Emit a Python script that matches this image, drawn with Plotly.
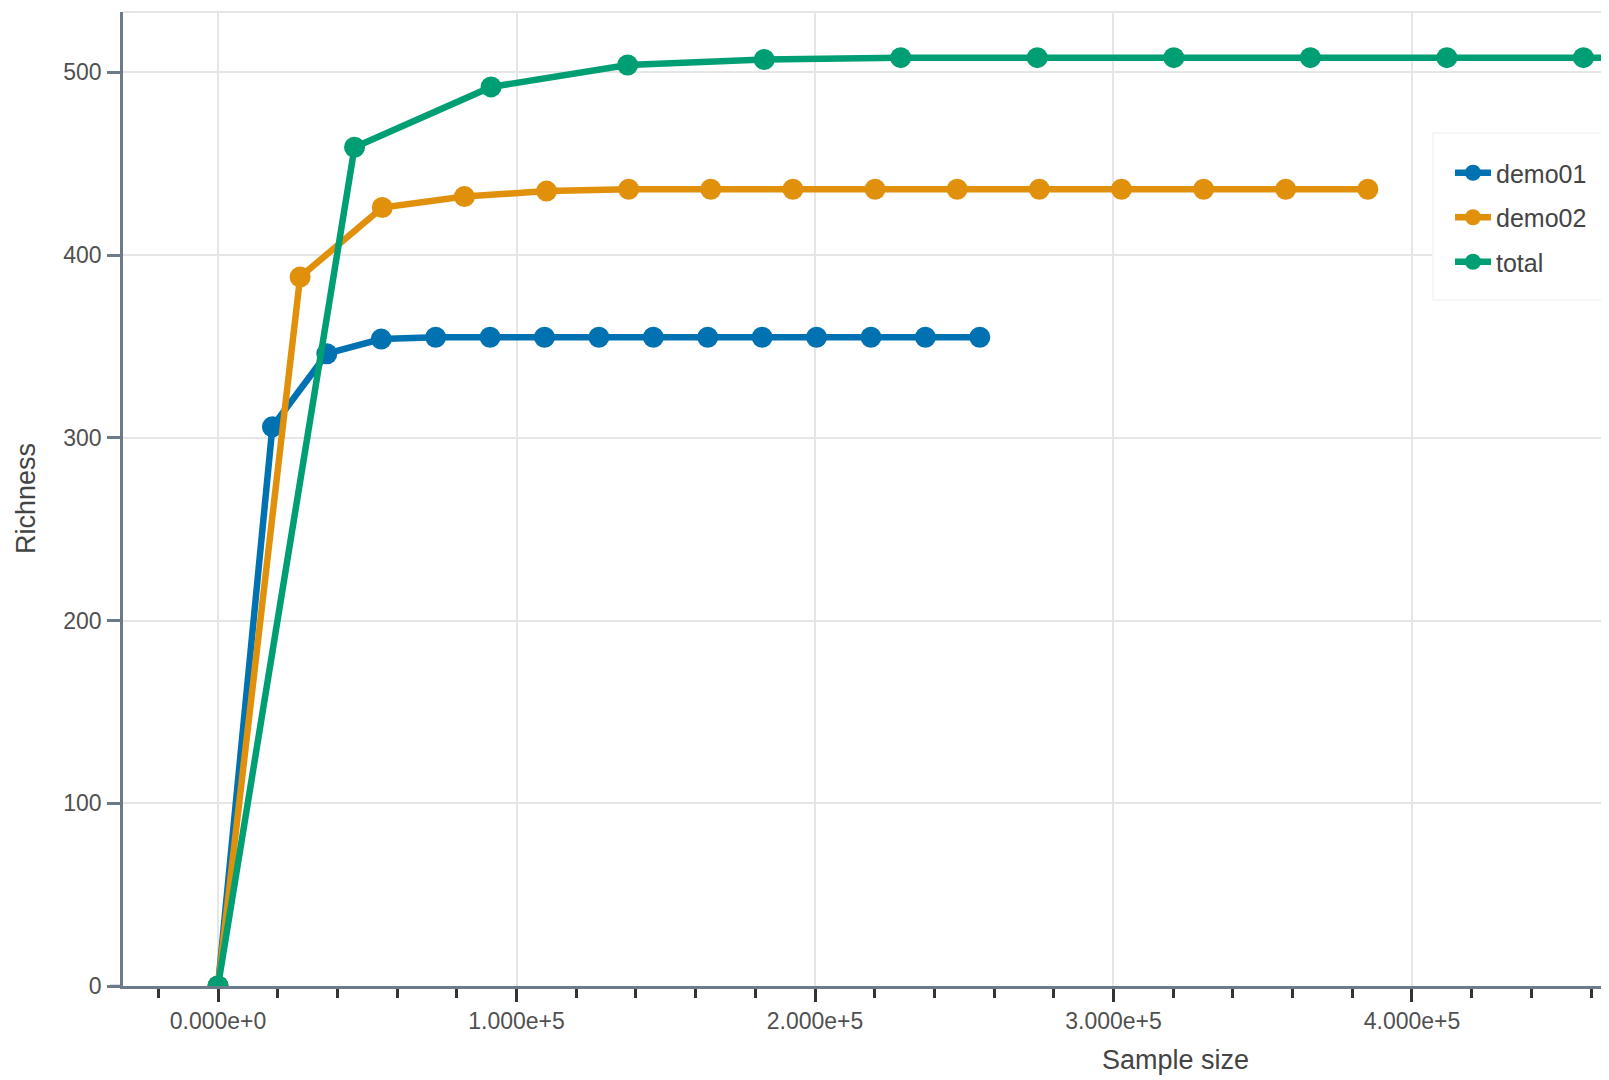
import plotly.graph_objects as go

# rarefaction curves
demo01_x = [0, 18229, 36458, 54687, 72916, 91145, 109374, 127603, 145832,
            164061, 182290, 200519, 218748, 236977, 255206]
demo01_y = [0, 306, 346, 354, 355, 355, 355, 355, 355, 355, 355, 355, 355, 355, 355]

demo02_x = [0, 27515, 55030, 82545, 110060, 137575, 165090, 192605, 220120,
            247635, 275150, 302665, 330180, 357695, 385210]
demo02_y = [0, 388, 426, 432, 435, 436, 436, 436, 436, 436, 436, 436, 436, 436, 436]

total_x = [0, 45744, 91488, 137232, 182976, 228720, 274464, 320208, 365952,
           411696, 457440, 503184, 548928, 594672, 640416]
total_y = [0, 459, 492, 504, 507, 508, 508, 508, 508, 508, 508, 508, 508, 508, 508]

series_names = ['demo01', 'demo02', 'total']
series_colors = ['#0072B2', '#E0900A', '#009E73']

FONT = 'Liberation Sans, Arial, sans-serif'
AXIS_COLOR = '#6b7b8a'
GRID_COLOR = '#e6e6e6'

# page body has an 8px margin, so the figure is a bit smaller than the window
W, H = 1601, 1072
L, T, B = 115, 4, 94
PW, PH = W - L, H - T - B


def draw_rarefaction(xs, ys):
    fig = go.Figure()
    for name, color, x, y in zip(series_names, series_colors, xs, ys):
        fig.add_trace(go.Scatter(
            x=x, y=y, name=name, legendgroup=name,
            mode='lines+markers',
            line=dict(color=color, width=6.5),
            marker=dict(color=color, size=21),
        ))

    fig.update_layout(
        width=W, height=H,
        margin=dict(l=L, r=0, t=T, b=B),
        paper_bgcolor='white', plot_bgcolor='white',
        font=dict(family=FONT, size=23, color='#505050'),
        showlegend=True,
        legend=dict(
            x=(1450 - 123) / PW, y=(986 - 150) / PH,
            xanchor='left', yanchor='top',
            bgcolor='rgba(0,0,0,0)', borderwidth=0,
            font=dict(size=25, color='#444444'),
            itemwidth=36,
            tracegroupgap=9,
        ),
        shapes=[
            # legend box
            dict(type='rect', xref='paper', yref='paper', layer='above',
                 x0=(1433 - 123) / PW, x1=1.0,
                 y0=(986 - 300) / PH, y1=(986 - 133) / PH,
                 fillcolor='white', line=dict(color='#f3f3f3', width=1.5)),
            # plot outline on top
            dict(type='line', xref='paper', yref='paper', layer='below',
                 x0=0, x1=1, y0=1, y1=1,
                 line=dict(color=GRID_COLOR, width=2)),
            # x axis line runs a little past the y axis
            dict(type='line', xref='paper', yref='paper', layer='above',
                 x0=-13 / PW, x1=0, y0=0, y1=0,
                 line=dict(color=AXIS_COLOR, width=2.5)),
        ],
        annotations=[
            dict(text='Sample size', xref='paper', yref='paper',
                 x=(1175 - 123) / PW, y=0, yshift=-74,
                 xanchor='center', yanchor='middle', showarrow=False,
                 font=dict(size=27, color='#444444')),
            dict(text='Richness', xref='paper', yref='paper',
                 x=0, xshift=-97, y=0.5, textangle=-90,
                 xanchor='center', yanchor='middle', showarrow=False,
                 font=dict(size=27, color='#444444')),
        ],
    )
    fig.update_xaxes(
        range=[-31826, 466000],
        tick0=0, dtick=100000, tickformat='.3e',
        ticks='outside', ticklen=13, tickwidth=2.5, tickcolor='#333333',
        showline=True, linecolor=AXIS_COLOR, linewidth=2.5,
        showgrid=True, gridcolor=GRID_COLOR, gridwidth=1.5,
        zeroline=False,
        minor=dict(dtick=20000, tick0=0, ticks='outside', ticklen=9,
                   tickwidth=2.5, tickcolor='#333333', showgrid=False),
    )
    fig.update_yaxes(
        range=[0, 533],
        tick0=0, dtick=100,
        ticks='outside', ticklen=13, tickwidth=2.5, tickcolor=AXIS_COLOR,
        ticklabelstandoff=1,
        showline=True, linecolor=AXIS_COLOR, linewidth=2.5,
        showgrid=True, gridcolor=GRID_COLOR, gridwidth=1.5,
        zeroline=False,
    )
    return fig


def main():
    fig = draw_rarefaction([demo01_x, demo02_x, total_x],
                           [demo01_y, demo02_y, total_y])
    fig.write_html('out.html')


if __name__ == '__main__':
    main()
